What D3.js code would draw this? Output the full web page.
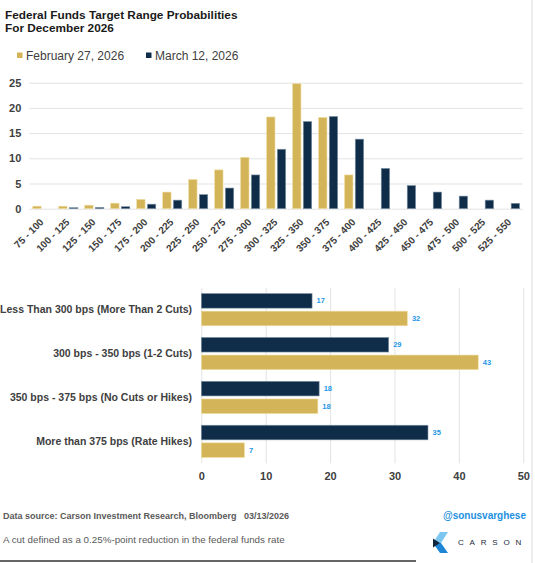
<!DOCTYPE html>
<html>
<head>
<meta charset="utf-8">
<script src="https://cdn.jsdelivr.net/npm/d3@7"></script>
<style>
  body { margin: 0; background: #fff; }
  text { font-family: "Liberation Sans", Arial, sans-serif; }
</style>
</head>
<body>
<div class="chart"></div>
<script>
// Data
var ranges = ["75 - 100", "100 - 125", "125 - 150", "150 - 175", "175 - 200", "200 - 225",
  "225 - 250", "250 - 275", "275 - 300", "300 - 325", "325 - 350", "350 - 375",
  "375 - 400", "400 - 425", "425 - 450", "450 - 475", "475 - 500", "500 - 525", "525 - 550"];
var feb27 = [0.5, 0.5, 0.7, 1.1, 1.85, 3.3, 5.8, 7.7, 10.2, 18.2, 24.8, 18.1, 6.7, 0, 0, 0, 0, 0, 0];
var mar12 = [0, 0.2, 0.25, 0.4, 0.9, 1.7, 2.8, 4.1, 6.7, 11.8, 17.3, 18.3, 13.8, 8.0, 4.6, 3.3, 2.5, 1.7, 1.07];
var yTicks = [0, 5, 10, 15, 20, 25];

var buckets = ["Less Than 300 bps (More Than 2 Cuts)", "300 bps - 350 bps (1-2 Cuts)",
  "350 bps - 375 bps (No Cuts or Hikes)", "More than 375 bps (Rate Hikes)"];
var bucketMar12 = [17.2, 29.1, 18.3, 35.2];
var bucketFeb27 = [32.0, 43.0, 18.1, 6.7];
var xTicks = [0, 10, 20, 30, 40, 50];

var gold = "#d4b458";
var navy = "#0f2d48";
var grid = "#e3e3e3";
var labelColor = "#404040";

var svgWidth = 535;
var svgHeight = 563;

var svg = d3.select(".chart").append("svg")
    .attr("width", svgWidth).attr("height", svgHeight);

// Title
svg.append("text").attr("x", 5).attr("y", 18.5)
    .attr("font-size", "11.8px").attr("font-weight", "bold").attr("fill", "#1a1a1a")
    .text("Federal Funds Target Range Probabilities");
svg.append("text").attr("x", 5).attr("y", 32)
    .attr("font-size", "11.8px").attr("font-weight", "bold").attr("fill", "#1a1a1a")
    .text("For December 2026");

// Legend
var legend = [
  {name: "February 27, 2026", color: gold, x: 17},
  {name: "March 12, 2026", color: navy, x: 146}
];
var legendGroup = svg.selectAll(".legend").data(legend).enter().append("g")
    .attr("transform", d => `translate(${d.x},52.5)`);
legendGroup.append("rect").attr("width", 5.5).attr("height", 5.5).attr("fill", d => d.color);
legendGroup.append("text").attr("x", 9).attr("y", 7.5)
    .attr("font-size", "12px").attr("fill", labelColor).text(d => d.name);

// ---------- Top chart: probability by range ----------
var topBox = {left: 29.3, right: 523, top: 82.7, bottom: 208.7};

var x0 = d3.scaleBand().domain(ranges).range([topBox.left, topBox.right]);
var x1 = d3.scaleBand().domain(["feb", "mar"]).range([0, x0.bandwidth()])
    .paddingInner(0.215).paddingOuter(0.32);
var yTop = d3.scaleLinear().domain([0, 25]).range([topBox.bottom, topBox.top]);

var topAxis = svg.append("g").attr("transform", `translate(${topBox.left},0)`)
    .call(d3.axisLeft(yTop).tickValues(yTicks).tickSize(-(topBox.right - topBox.left)).tickPadding(8));
topAxis.select(".domain").remove();
topAxis.selectAll(".tick line").attr("stroke", grid);
topAxis.selectAll(".tick text").attr("font-size", "11px").attr("font-weight", "bold")
    .attr("fill", labelColor).attr("font-family", "Liberation Sans, Arial, sans-serif");

var rangeData = ranges.map((r, i) => ({range: r, feb: feb27[i], mar: mar12[i]}));

var groups = svg.selectAll(".rangeGroup").data(rangeData).enter().append("g")
    .attr("transform", d => `translate(${x0(d.range)},0)`);

groups.filter(d => d.feb > 0).append("rect")
    .attr("x", x1("feb")).attr("width", x1.bandwidth())
    .attr("y", d => yTop(d.feb)).attr("height", d => yTop(0) - yTop(d.feb))
    .attr("fill", gold).attr("stroke", "#efdfa6").attr("stroke-width", 0.6);
groups.filter(d => d.mar > 0).append("rect")
    .attr("x", x1("mar")).attr("width", x1.bandwidth())
    .attr("y", d => yTop(d.mar)).attr("height", d => yTop(0) - yTop(d.mar))
    .attr("fill", navy).attr("stroke", "#8196aa").attr("stroke-width", 0.6);

// Rotated range labels
svg.selectAll(".rangeLabel").data(ranges).enter().append("text")
    .attr("transform", d => `translate(${x0(d) + x0.bandwidth() / 2 + 2},${topBox.bottom + 14}) rotate(-45)`)
    .attr("text-anchor", "end")
    .attr("font-size", "10px").attr("font-weight", "bold").attr("fill", labelColor)
    .text(d => d);

// ---------- Bottom chart: grouped buckets ----------
var bot = {left: 201.3, right: 523.3, top: 287.7, bottom: 463.3};

var xBot = d3.scaleLinear().domain([0, 50]).range([bot.left, bot.right]);
var y0 = d3.scaleBand().domain(buckets).range([bot.top, bot.bottom]);
var y1 = d3.scaleBand().domain(["mar", "feb"]).range([0, y0.bandwidth()])
    .paddingInner(0.17).paddingOuter(0.33);

var botAxis = svg.append("g").attr("transform", `translate(0,${bot.bottom})`)
    .call(d3.axisBottom(xBot).tickValues(xTicks).tickSize(-(bot.bottom - bot.top)).tickPadding(9));
botAxis.select(".domain").remove();
botAxis.selectAll(".tick line").attr("stroke", grid);
botAxis.selectAll(".tick text").attr("font-size", "11px").attr("font-weight", "bold")
    .attr("fill", labelColor).attr("font-family", "Liberation Sans, Arial, sans-serif");

var bucketData = buckets.map((b, i) => ({bucket: b, mar: bucketMar12[i], feb: bucketFeb27[i]}));

var bGroups = svg.selectAll(".bucketGroup").data(bucketData).enter().append("g")
    .attr("transform", d => `translate(0,${y0(d.bucket)})`);

var series = [{key: "mar", color: navy, edge: "#8196aa"}, {key: "feb", color: gold, edge: "#efdfa6"}];
series.forEach(function(s) {
  bGroups.append("rect")
      .attr("x", xBot(0)).attr("y", y1(s.key))
      .attr("width", d => xBot(d[s.key]) - xBot(0)).attr("height", y1.bandwidth())
      .attr("fill", s.color).attr("stroke", s.edge).attr("stroke-width", 0.6);
  bGroups.append("text")
      .attr("x", d => xBot(d[s.key]) + 4.5)
      .attr("y", y1(s.key) + y1.bandwidth() / 2)
      .attr("dy", "0.35em")
      .attr("font-size", "7.5px").attr("font-weight", "bold").attr("fill", "#1e96e8")
      .text(d => Math.round(d[s.key]));
});

bGroups.append("text")
    .attr("x", 192).attr("y", y0.bandwidth() / 2).attr("dy", "0.35em")
    .attr("text-anchor", "end")
    .attr("font-size", "10.5px").attr("font-weight", "bold").attr("fill", labelColor)
    .text(d => d.bucket);

// ---------- Footer ----------
svg.append("text").attr("x", 3).attr("y", 519)
    .attr("font-size", "9px").attr("font-weight", "bold").attr("fill", "#5a5a5a")
    .attr("xml:space", "preserve")
    .text("Data source: Carson Investment Research, Bloomberg   03/13/2026");
svg.append("text").attr("x", 3).attr("y", 543)
    .attr("font-size", "9.8px").attr("fill", "#5a5a5a")
    .text("A cut defined as a 0.25%-point reduction in the federal funds rate");

svg.append("text").attr("x", 526).attr("y", 519).attr("text-anchor", "end")
    .attr("font-size", "10px").attr("font-weight", "bold").attr("fill", "#1e90e0")
    .text("@sonusvarghese");

// Carson logo
var logo = svg.append("g");
logo.append("polygon").attr("points", "440,532 448,532 441,543 433,543").attr("fill", "#7cc6f0");
logo.append("polygon").attr("points", "433,543 441,543 448,553 440,553").attr("fill", "#1d86d6");
logo.append("polygon").attr("points", "433,538.5 440,543 433,547.5").attr("fill", "#10263c");
logo.append("text").attr("x", 458).attr("y", 545)
    .attr("font-size", "8px").attr("letter-spacing", "5.8px").attr("fill", "#1a2b3c")
    .text("CARSON");

// Frame lines
svg.append("line").attr("x1", 0).attr("x2", 416).attr("y1", 561).attr("y2", 561)
    .attr("stroke", "#333").attr("stroke-width", 1.5);
svg.append("line").attr("x1", 532).attr("x2", 532).attr("y1", 0).attr("y2", 563)
    .attr("stroke", "#dcdcdc").attr("stroke-width", 1);
</script>
</body>
</html>
